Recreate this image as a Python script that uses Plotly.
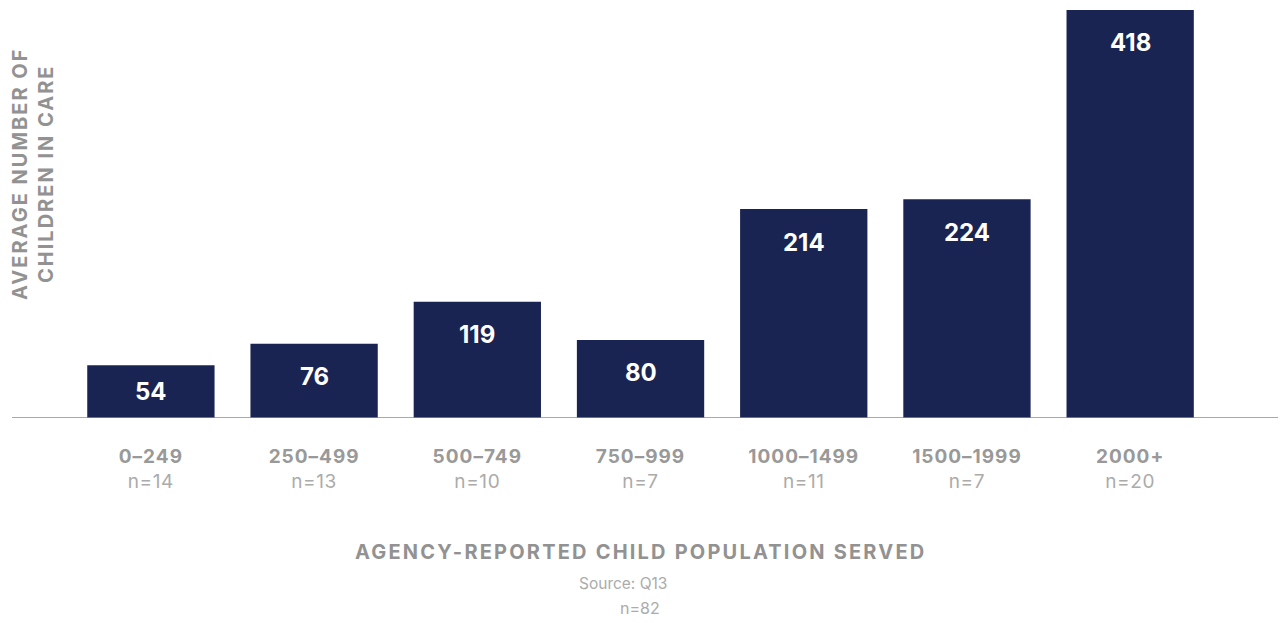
import plotly.graph_objects as go

categories = ["0–249", "250–499", "500–749", "750–999", "1000–1499", "1500–1999", "2000+"]
n_counts = ["n=14", "n=13", "n=10", "n=7", "n=11", "n=7", "n=20"]
values = [54, 76, 119, 80, 214, 224, 418]

x_title = "AGENCY-REPORTED CHILD POPULATION SERVED"
y_title_lines = ["AVERAGE NUMBER OF", "CHILDREN IN CARE"]
source_lines = ["Source: Q13", "n=82"]

FONT = "Inter, Roboto, sans-serif"
BAR = "#1a2452"
GRAY = "#929292"
TICK = "#999999"
LIGHT = "#ababab"

def spaced(t, px):
    return f"<span style='letter-spacing:{px}px'>{t}</span>"

ticktext = [f"<b>{spaced(c, 1)}</b><br><span style='color:{LIGHT};letter-spacing:0.6px'>{n}</span>"
            for c, n in zip(categories, n_counts)]

# page body has an 8px margin; figure is sized to fit the window
W, H = 1278, 615
ML, MR, MT, MB = 4, 6, 0, 205
PW, PH = W - ML - MR, H - MT - MB

def px_x(fx):
    return (fx - ML) / PW

def px_y(fy):
    return (H - MB - fy) / PH

fig = go.Figure()
fig.add_trace(go.Bar(
    x=list(range(len(categories))), y=values,
    marker=dict(color=BAR, line=dict(width=0)),
    width=0.78, hoverinfo="skip",
))

for i, v in enumerate(values):
    fig.add_annotation(x=i, y=v, yref="y", xref="x", text=f"<b>{v}</b>",
                       showarrow=False, yshift=-33 if v > 70 else -26,
                       font=dict(family=FONT, size=24, color="white"))

fig.add_annotation(xref="paper", yref="paper", x=px_x(25), y=px_y(166),
                   text="<b>" + "<br>".join(spaced(l, 2) for l in y_title_lines) + "</b>",
                   textangle=-90, showarrow=False, xanchor="center", yanchor="middle",
                   font=dict(family=FONT, size=20, color=GRAY))

fig.add_annotation(xref="paper", yref="paper", x=px_x(632), y=px_y(544),
                   text=f"<b>{spaced(x_title, 2.2)}</b>",
                   showarrow=False, xanchor="center", yanchor="middle",
                   font=dict(family=FONT, size=20, color=GRAY))
fig.add_annotation(xref="paper", yref="paper", x=px_x(615), y=px_y(575), text=source_lines[0],
                   showarrow=False, xanchor="center", yanchor="middle",
                   font=dict(family=FONT, size=15.5, color=LIGHT))
fig.add_annotation(xref="paper", yref="paper", x=px_x(632), y=px_y(600), text=source_lines[1],
                   showarrow=False, xanchor="center", yanchor="middle",
                   font=dict(family=FONT, size=16, color=LIGHT))

fig.update_layout(
    width=W, height=H,
    margin=dict(l=ML, r=MR, t=MT, b=MB),
    paper_bgcolor="white", plot_bgcolor="white",
    showlegend=False,
    xaxis=dict(range=[-0.851, 6.918], tickmode="array", tickvals=list(range(len(categories))),
               ticktext=ticktext, tickfont=dict(family=FONT, size=19, color=TICK),
               showgrid=False, zeroline=False, showline=False, ticks="", ticklabelstandoff=25),
    yaxis=dict(range=[0, 420], visible=False, showgrid=False, zeroline=False),
)

fig.add_shape(type="line", xref="paper", yref="y", x0=0, x1=1, y0=0, y1=0,
              line=dict(color="#8c8c8c", width=1.5))

fig.write_html("out.html")
